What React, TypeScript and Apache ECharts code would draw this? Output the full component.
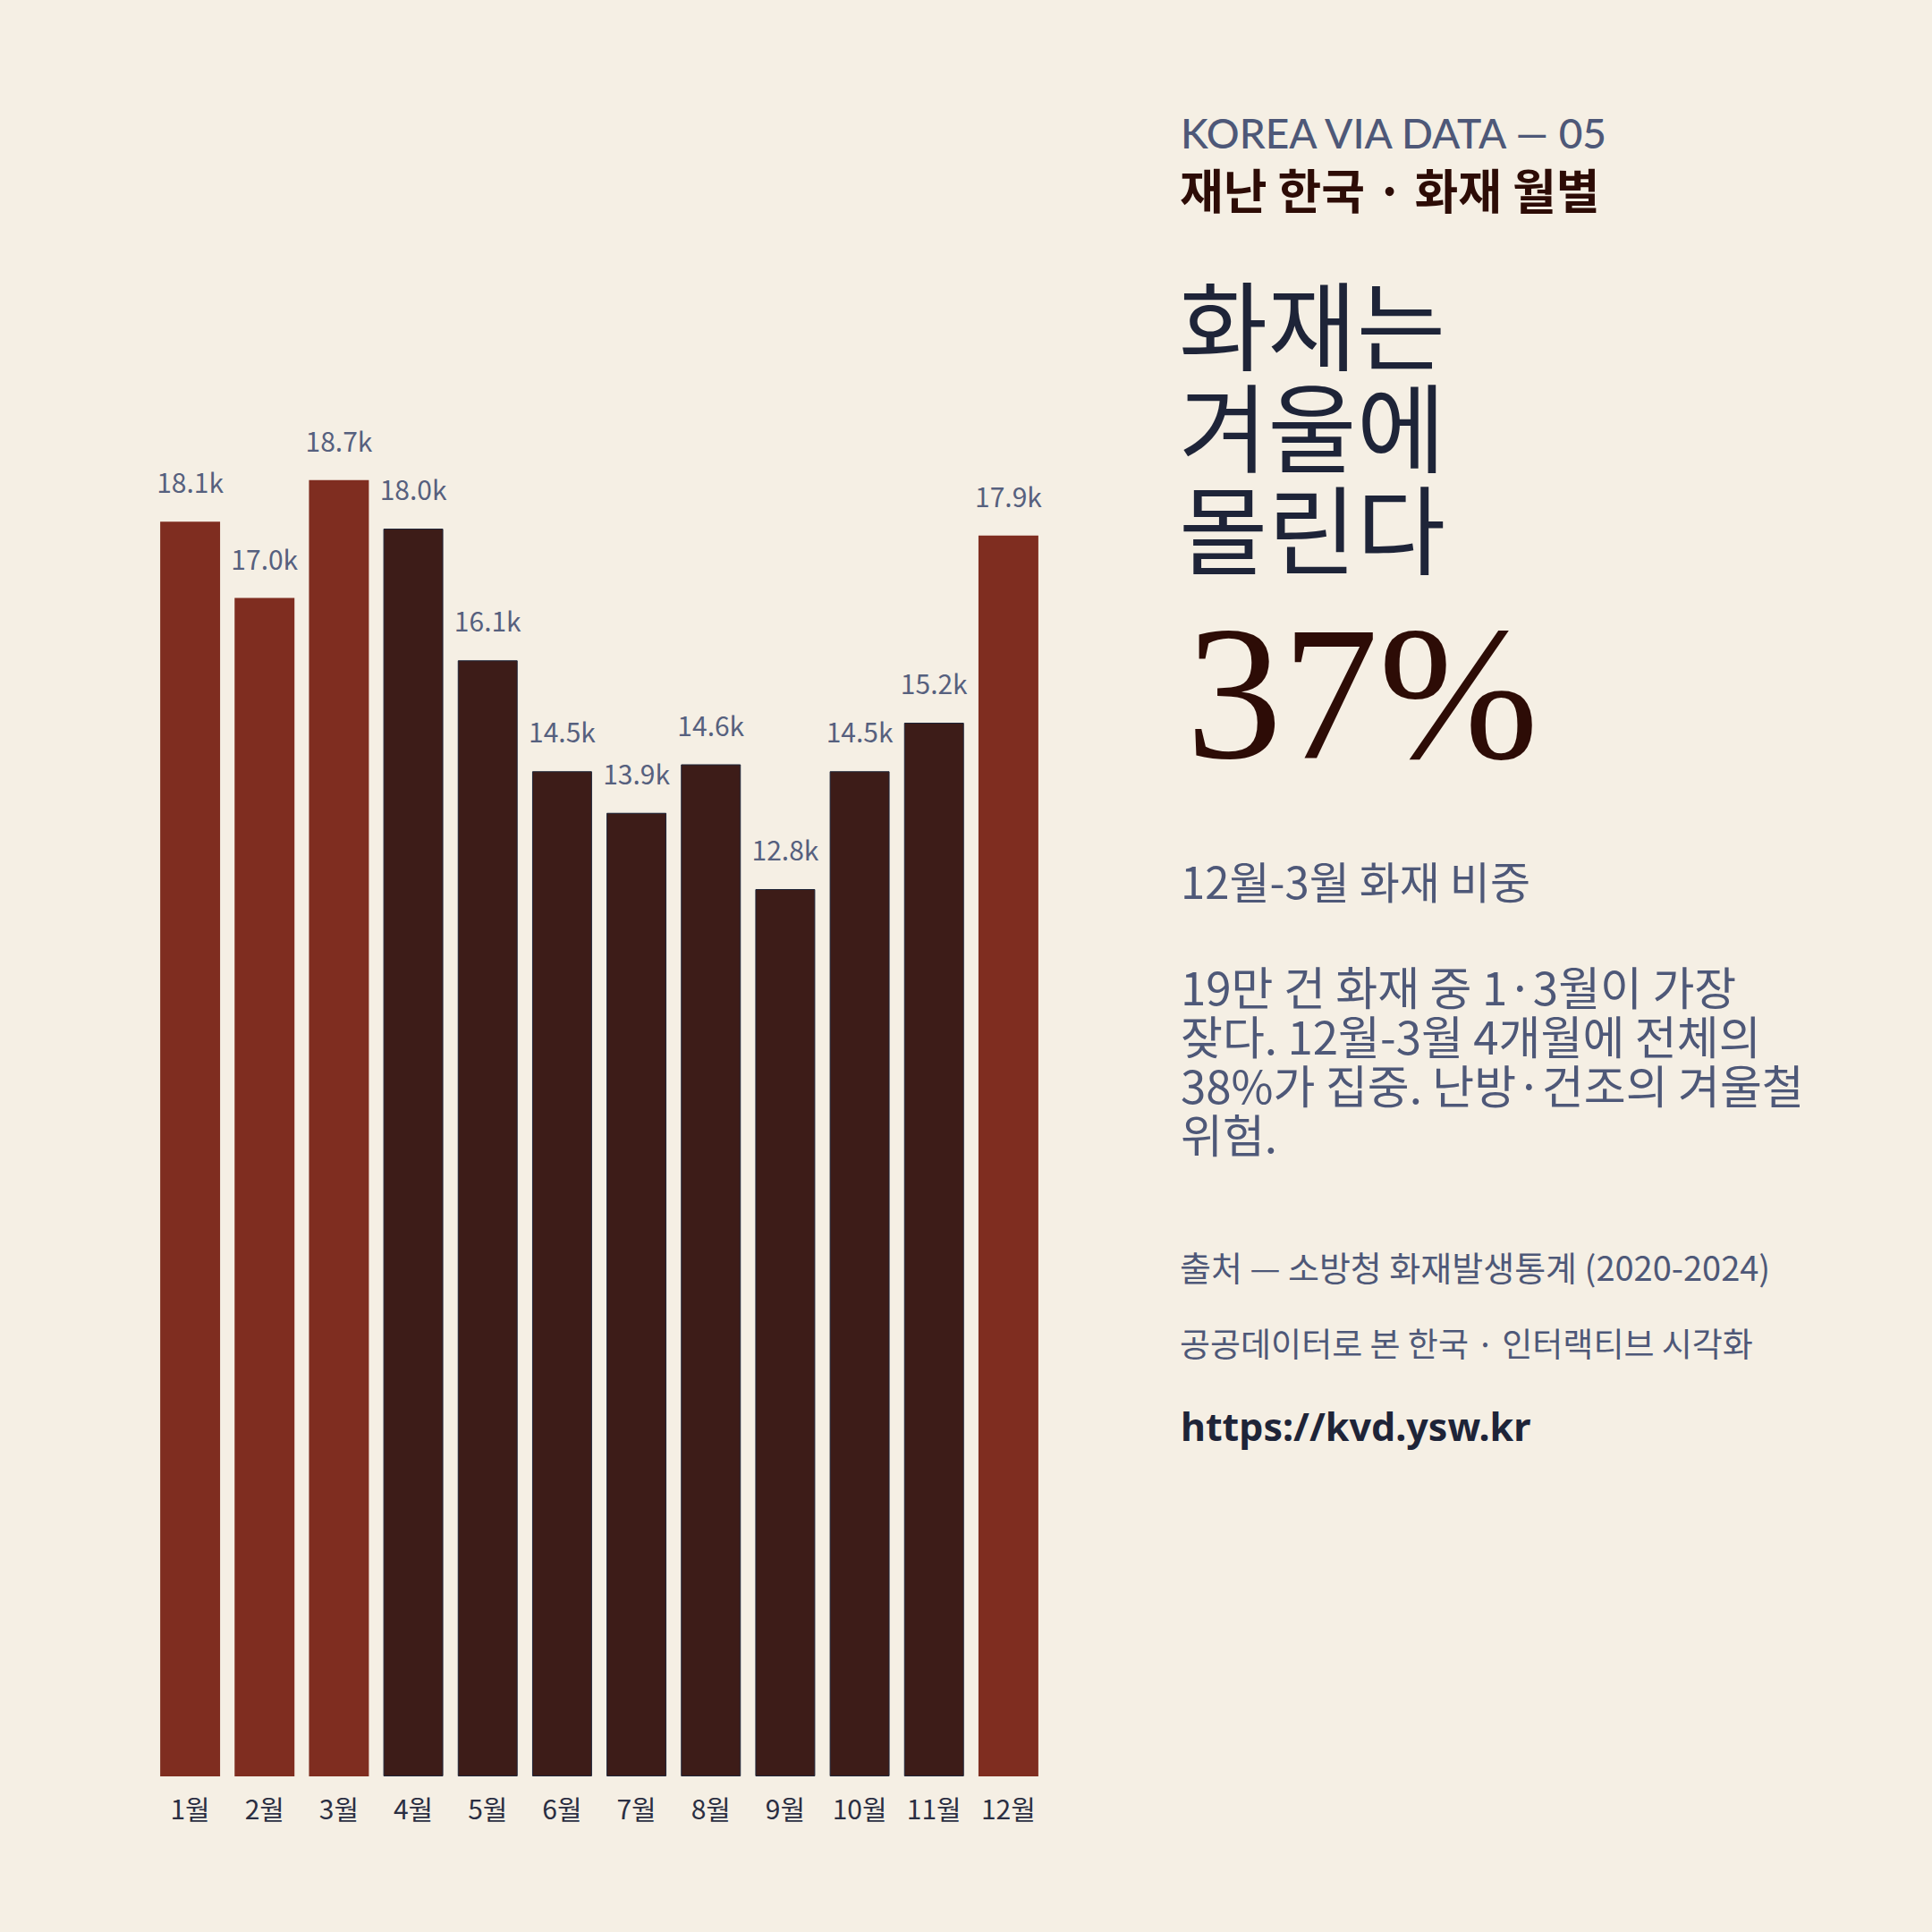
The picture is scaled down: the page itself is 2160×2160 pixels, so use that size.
import React, { useEffect, useRef } from "react";
import * as echarts from "echarts";

const months = ["1월", "2월", "3월", "4월", "5월", "6월", "7월", "8월", "9월", "10월", "11월", "12월"];
const fireCounts = [18100, 17000, 18700, 18000, 16100, 14500, 13900, 14600, 12800, 14500, 15200, 17900];
const winterFlags = [true, true, true, false, false, false, false, false, false, false, false, true];

const kicker = "KOREA VIA DATA — 05";
const seriesTitle = "재난 한국 · 화재 월별";
const headlineLines = ["화재는", "겨울에", "몰린다"];
const bigStat = "37%";
const statCaption = "12월-3월 화재 비중";
const bodyLines = [
  "19만 건 화재 중 1·3월이 가장",
  "잦다. 12월-3월 4개월에 전체의",
  "38%가 집중. 난방·건조의 겨울철",
  "위험.",
];
const sourceLine = "출처 — 소방청 화재발생통계 (2020-2024)";
const creditLine = "공공데이터로 본 한국 · 인터랙티브 시각화";
const urlLine = "https://kvd.ysw.kr";

const BG = "#F5EFE4";
const RED = "#7F2D20";
const DARK = "#3D1C18";
const SLATE = "#4E5878";
const NAVY = "#1E2438";
const BROWN = "#2D0C06";
const KR = "'Noto Sans CJK KR', 'Noto Sans', sans-serif";

export default function App() {
  const ref = useRef<HTMLDivElement>(null);
  useEffect(() => {
    if (!ref.current) return;
    const chart = echarts.init(ref.current, null, { renderer: "svg" });
    const txt = (text: string, x: number, y: number, size: number, color: string, extra: any = {}) => ({
      type: "text",
      x,
      y,
      style: {
        text,
        fontSize: size,
        fill: color,
        fontFamily: KR,
        align: "left",
        verticalAlign: "middle",
        ...extra,
      },
    });
    const graphics: any[] = [
      txt(kicker, 1320, 148, 46, SLATE, { fontFamily: "Lato, 'Noto Sans', sans-serif", fontWeight: 500 }),
      txt(seriesTitle, 1319, 211, 53, BROWN, { fontWeight: "bold" }),
      txt(headlineLines.join("\n"), 1318, 302, 108, NAVY, { verticalAlign: "top", lineHeight: 114 }),
      txt(bigStat, 1326, 774, 215, BROWN, { fontFamily: "'Liberation Serif', serif" }),
      txt(statCaption, 1320, 983, 49, SLATE),
      txt(bodyLines.join("\n"), 1320, 1074, 51, SLATE, { verticalAlign: "top", lineHeight: 55 }),
      txt(sourceLine, 1319, 1415, 38, SLATE),
      txt(creditLine, 1319, 1501, 37, SLATE),
      txt(urlLine, 1320, 1594, 43, NAVY, { fontWeight: "bold", fontFamily: "'Noto Sans', sans-serif" }),
    ];
    chart.setOption({
      animation: false,
      backgroundColor: BG,
      grid: { left: 171, top: 436, width: 998, bottom: 174, containLabel: false },
      xAxis: {
        type: "category",
        data: months,
        axisLine: { show: false },
        axisTick: { show: false },
        axisLabel: { fontSize: 30, color: "#2A2E42", margin: 20, fontFamily: KR },
      },
      yAxis: { type: "value", min: 0, max: 20000, show: false, splitLine: { show: false } },
      series: [
        {
          type: "bar",
          barCategoryGap: "19.5%",
          data: fireCounts.map((v, i) => ({
            value: v,
            itemStyle: winterFlags[i]
              ? { color: RED }
              : { color: DARK, borderColor: NAVY, borderWidth: 1 },
          })),
          label: {
            show: true,
            position: "top",
            distance: 30,
            fontSize: 30,
            color: "#56607E",
            fontFamily: KR,
            formatter: (p: any) => (p.value / 1000).toFixed(1) + "k",
          },
        },
      ],
      graphic: graphics,
    });
    return () => chart.dispose();
  }, []);
  return (
    <div
      ref={ref}
      style={{ position: "absolute", left: 0, top: 0, width: 2160, height: 2160 }}
    />
  );
}
